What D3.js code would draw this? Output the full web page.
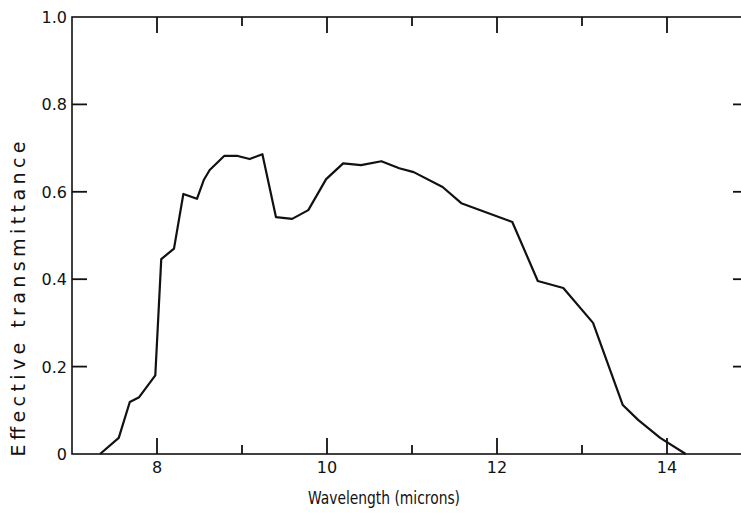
<!DOCTYPE html>
<html>
<head>
<meta charset="utf-8">
<script src="https://cdn.jsdelivr.net/npm/d3@7"></script>
<style>
  html, body { margin: 0; padding: 0; background: #fff; }
  svg { display: block; }
  text { font-family: "DejaVu Sans", sans-serif; fill: #111; }
</style>
</head>
<body>
<svg id="chart" width="741" height="518"></svg>
<script>
// Data
const wavelength = [7.33, 7.55, 7.68, 7.79, 7.98, 8.05, 8.2, 8.31, 8.47, 8.55, 8.62, 8.79, 8.95, 9.09, 9.24, 9.4, 9.59, 9.78, 9.99, 10.19, 10.4, 10.64, 10.85, 11.02, 11.36, 11.58, 12.18, 12.48, 12.78, 13.13, 13.48, 13.66, 13.92, 14.22];
const transmittance = [0, 0.037, 0.119, 0.13, 0.18, 0.446, 0.47, 0.595, 0.584, 0.627, 0.65, 0.682, 0.682, 0.675, 0.686, 0.542, 0.538, 0.558, 0.629, 0.665, 0.661, 0.67, 0.654, 0.645, 0.611, 0.574, 0.531, 0.396, 0.38, 0.3, 0.112, 0.078, 0.037, 0];
const xTickValues = [8, 10, 12, 14];
const xMinorTicks = [9, 11, 13];
const yTickValues = [0, 0.2, 0.4, 0.6, 0.8, 1.0];
const yTickLabels = ["0", "0.2", "0.4", "0.6", "0.8", "1.0"];
const xTitle = "Wavelength (microns)";
const yTitle = "Effective transmittance";

(function () {
const svg = d3.select("#chart");
const mLeft = 72, mRight = 752, mTop = 17, mBottom = 454;

const x = d3.scaleLinear().domain([7, 15]).range([mLeft, mRight]);
const y = d3.scaleLinear().domain([0, 1]).range([mBottom, mTop]);

const ink = "#111";

// Frame
svg.append("rect").attr("x", mLeft).attr("y", mTop).attr("width", mRight - mLeft).attr("height", mBottom - mTop)
  .attr("fill", "none").attr("stroke", ink).attr("stroke-width", 1.6);

const tickG = svg.append("g");
const xTicks = xTickValues.map(v => ({ v, len: 16 })).concat(xMinorTicks.map(v => ({ v, len: 9 })));
xTicks.forEach(d => {
  tickG.append("line").attr("x1", x(d.v)).attr("x2", x(d.v))
    .attr("y1", mBottom).attr("y2", mBottom - d.len)
    .attr("stroke", ink).attr("stroke-width", 1.8);
  tickG.append("line").attr("x1", x(d.v)).attr("x2", x(d.v))
    .attr("y1", mTop).attr("y2", mTop + d.len)
    .attr("stroke", ink).attr("stroke-width", 1.8);
});
yTickValues.filter(d => d > 0 && d < 1).forEach(d => {
  tickG.append("line").attr("x1", mLeft).attr("x2", mLeft + 15)
    .attr("y1", y(d)).attr("y2", y(d)).attr("stroke", ink).attr("stroke-width", 1.8);
  tickG.append("line").attr("x1", mRight).attr("x2", mRight - 19)
    .attr("y1", y(d)).attr("y2", y(d)).attr("stroke", ink).attr("stroke-width", 1.8);
});

// tick labels
xTickValues.forEach(d => {
  svg.append("text").attr("x", x(d)).attr("y", mBottom + 19).attr("text-anchor", "middle")
    .attr("font-size", 16).text(String(d));
});
yTickValues.forEach((d, i) => {
  svg.append("text").attr("x", mLeft - 5).attr("y", y(d) + 6).attr("text-anchor", "end")
    .attr("font-size", 16).text(yTickLabels[i]);
});

// Curve
const data = wavelength.map((w, i) => ({ w, t: transmittance[i] }));
const line = d3.line().x(d => x(d.w)).y(d => y(d.t));
svg.append("path").attr("d", line(data))
  .attr("fill", "none").attr("stroke", ink).attr("stroke-width", 2.2).attr("stroke-linejoin", "round");

// Axis titles
svg.append("text").attr("x", 384).attr("y", 504).attr("text-anchor", "middle")
  .attr("font-size", 17).attr("textLength", 152).attr("lengthAdjust", "spacingAndGlyphs").text(xTitle);

svg.append("text").attr("transform", "translate(25,299) rotate(-90)").attr("text-anchor", "middle")
  .attr("font-size", 19).attr("textLength", 315).attr("lengthAdjust", "spacing").text(yTitle);
})();
</script>
</body>
</html>
